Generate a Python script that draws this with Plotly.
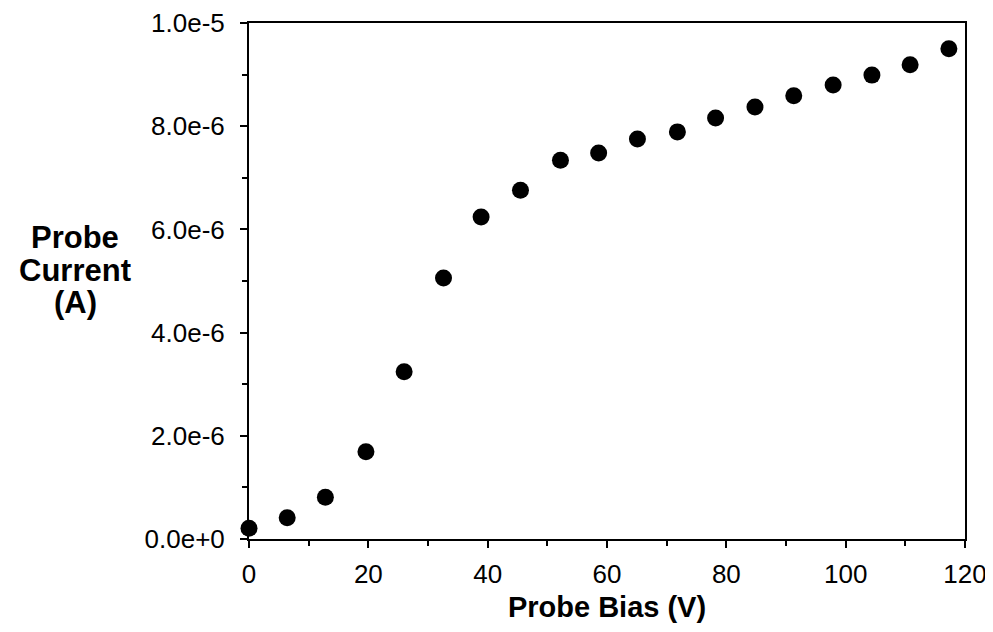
import plotly.graph_objects as go

bias_v = [0, 6.4, 12.8, 19.6, 26.0, 32.6, 38.9, 45.5, 52.2, 58.6, 65.1, 71.8,
          78.2, 84.8, 91.3, 97.9, 104.4, 110.8, 117.3]
current_a = [0.21e-6, 0.41e-6, 0.81e-6, 1.69e-6, 3.24e-6, 5.06e-6, 6.24e-6,
             6.76e-6, 7.34e-6, 7.48e-6, 7.75e-6, 7.89e-6, 8.16e-6, 8.37e-6,
             8.59e-6, 8.80e-6, 8.99e-6, 9.19e-6, 9.50e-6]

y_tickvals = [0, 2e-6, 4e-6, 6e-6, 8e-6, 1e-5]
y_ticktext = ["0.0e+0", "2.0e-6", "4.0e-6", "6.0e-6", "8.0e-6", "1.0e-5"]
x_tickvals = [0, 20, 40, 60, 80, 100, 120]
x_ticktext = ["0", "20", "40", "60", "80", "100", "120"]
y_title_lines = ["Probe", "Current", "(A)"]

font_family = "Liberation Sans, Arial, Helvetica, sans-serif"

# page body has an 8px default margin; figure is sized to fit inside it
fig_w, fig_h = 985, 624
m_l, m_r, m_t, m_b = 241, 28, 15, 93
plot_w = fig_w - m_l - m_r
plot_h = fig_h - m_t - m_b

fig = go.Figure()
fig.add_trace(go.Scatter(
    x=bias_v, y=current_a, mode="markers",
    marker=dict(color="black", size=17, line=dict(width=0)),
    cliponaxis=False, showlegend=False,
))

axis_common = dict(
    showgrid=False, zeroline=False, automargin=False,
    showline=True, linecolor="black", linewidth=2, mirror=True,
    ticks="outside", ticklen=7, tickwidth=2, tickcolor="black",
    tickfont=dict(size=26),
)

fig.update_layout(
    width=fig_w, height=fig_h,
    margin=dict(l=m_l, r=m_r, t=m_t, b=m_b),
    paper_bgcolor="white", plot_bgcolor="white",
    font=dict(family=font_family, color="black", size=26),
    xaxis=dict(
        range=[0, 120], tickvals=x_tickvals, ticktext=x_ticktext,
        minor=dict(ticks="outside", ticklen=5, tickwidth=2, tickcolor="black", dtick=10),
        ticklabelstandoff=4,
        title=dict(text="<b>Probe Bias (V)</b>", font=dict(size=29), standoff=8),
        **axis_common,
    ),
    yaxis=dict(
        range=[0, 1e-5], tickvals=y_tickvals, ticktext=y_ticktext,
        minor=dict(ticks="outside", ticklen=5, tickwidth=2, tickcolor="black", dtick=1e-6),
        ticklabelstandoff=10,
        **axis_common,
    ),
)

# y title lines, centred at page pixel positions (x=75; y=238/270/302)
y_centers_px = [238, 270, 302]
for line, py in zip(y_title_lines, y_centers_px):
    fig.add_annotation(
        text="<b>" + line + "</b>", xref="paper", yref="paper",
        x=(75 - 8 - m_l) / plot_w, y=(m_t + plot_h - (py - 8)) / plot_h,
        showarrow=False,
        font=dict(size=31, family=font_family, color="black"),
        xanchor="center", yanchor="middle",
    )

fig.write_html("out.html")
